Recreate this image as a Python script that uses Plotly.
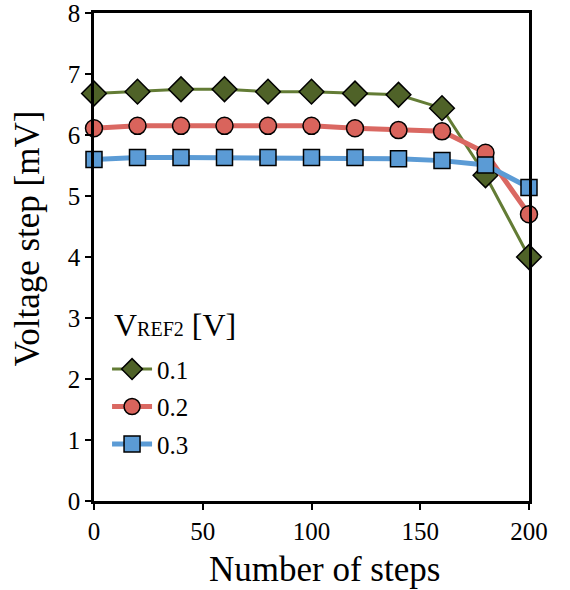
import plotly.graph_objects as go

steps = [0, 20, 40, 60, 80, 100, 120, 140, 160, 180, 200]
v01 = [6.68, 6.71, 6.75, 6.75, 6.71, 6.71, 6.68, 6.66, 6.44, 5.34, 4.00]
v02 = [6.11, 6.15, 6.15, 6.15, 6.15, 6.15, 6.11, 6.08, 6.06, 5.71, 4.70]
v03 = [5.60, 5.63, 5.63, 5.63, 5.63, 5.63, 5.63, 5.61, 5.58, 5.51, 5.14]
names = ["0.1", "0.2", "0.3"]
legend_title = "V<span style='font-size:20px'>REF2</span> [V]"
x_title = "Number of steps"
y_title = "Voltage step [mV]"

FONT = "Liberation Serif, Times New Roman, serif"
NB = "\u00a0"

fig = go.Figure()
fig.add_trace(go.Scatter(
    x=steps, y=v01, name=names[0], mode="lines+markers", legendgroup="a",
    line=dict(color="#637C35", width=3),
    marker=dict(symbol="diamond", size=19, color="#4F6228", line=dict(color="black", width=1.5)),
    cliponaxis=False))
fig.add_trace(go.Scatter(
    x=steps, y=v02, name=names[1], mode="lines+markers", legendgroup="b",
    line=dict(color="#DA6862", width=5),
    marker=dict(symbol="circle", size=17, color="#D9645C", line=dict(color="black", width=1.5)),
    cliponaxis=False))
fig.add_trace(go.Scatter(
    x=steps, y=v03, name=names[2], mode="lines+markers", legendgroup="c",
    line=dict(color="#5B9BD5", width=5),
    marker=dict(symbol="square", size=16, color="#5B9BD5", line=dict(color="black", width=1.5)),
    cliponaxis=False))

fig.update_layout(
    width=570, height=590,
    margin=dict(l=94, r=41, t=13, b=89),
    plot_bgcolor="white", paper_bgcolor="white",
    font=dict(family=FONT, size=25, color="black"),
    xaxis=dict(range=[0, 200], tickvals=[0, 50, 100, 150, 200], showgrid=False, zeroline=False,
               showline=True, linecolor="black", linewidth=2.5, mirror=True,
               ticks="outside", ticklen=6, tickwidth=2, tickcolor="black",
               automargin=False, ticklabeloverflow="allow",
               tickfont=dict(size=25)),
    yaxis=dict(range=[0, 8], tickvals=list(range(9)), showgrid=False, zeroline=False,
               showline=True, linecolor="black", linewidth=2.5, mirror=True,
               ticks="outside", ticklen=6, tickwidth=2, tickcolor="black",
               automargin=False, ticklabeloverflow="allow", ticksuffix=NB * 2,
               tickfont=dict(size=25)),
    legend=dict(x=0.03, y=0.317, xanchor="left", yanchor="top", bgcolor="rgba(0,0,0,0)",
                font=dict(size=25), itemwidth=40, tracegroupgap=2),
    annotations=[
        dict(text=legend_title, xref="paper", yref="paper", x=0.041, y=0.36,
             xanchor="left", yanchor="middle", showarrow=False, font=dict(size=32)),
        dict(text=x_title, xref="paper", yref="paper", x=0.53, y=-0.097,
             xanchor="center", yanchor="top", showarrow=False, font=dict(size=35)),
        dict(text=y_title, xref="paper", yref="paper", x=-0.1526, y=0.537,
             xanchor="center", yanchor="middle", textangle=-90, showarrow=False,
             font=dict(size=35)),
    ],
)

fig.write_html("out.html", config={"displayModeBar": False},
               post_script="document.body.style.margin='0';")
